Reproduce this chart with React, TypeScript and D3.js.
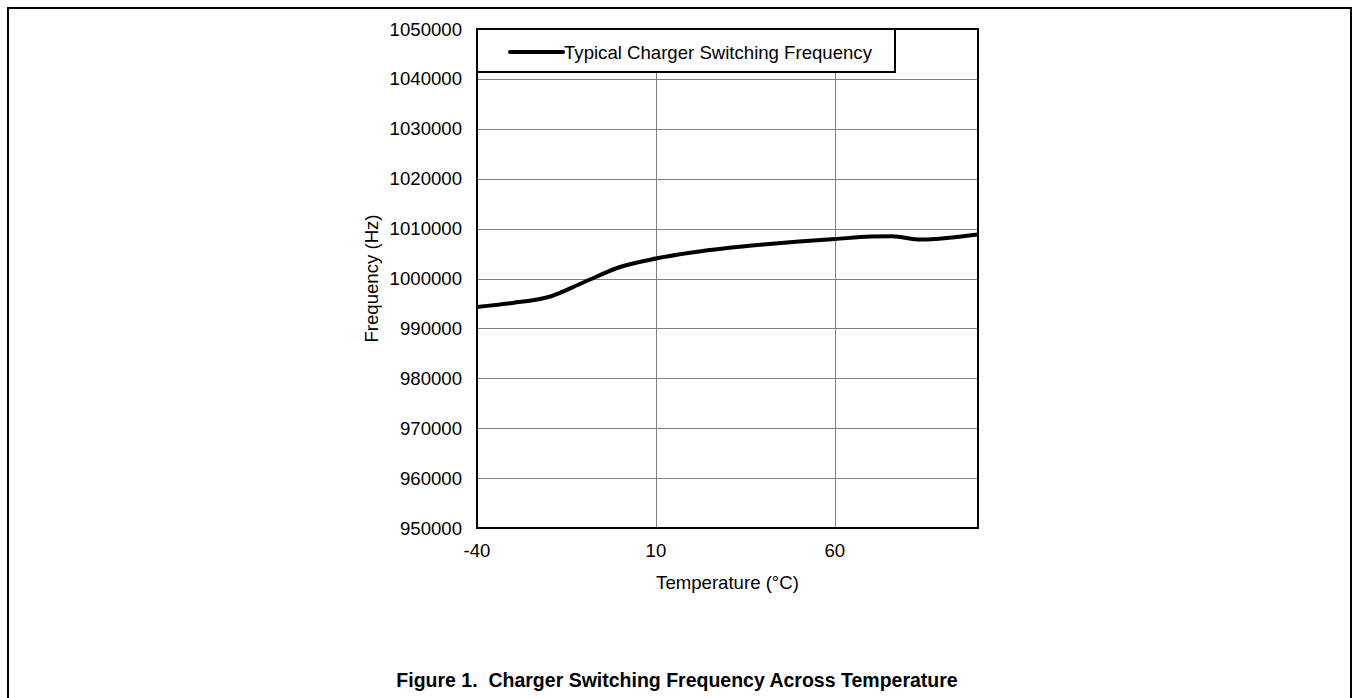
import { useEffect, useRef } from "react";
import * as d3 from "d3";

const temperatures = [-40, -30, -20, -10, 0, 10, 20, 30, 40, 50, 60, 70, 76, 84, 92, 100];
const frequencies = [
  994300, 995100, 996300, 999300, 1002300, 1004000, 1005200, 1006100, 1006800,
  1007400, 1007900, 1008400, 1008450, 1007800, 1008150, 1008800,
];
const xTicks = [-40, 10, 60];
const yTicks = [950000, 960000, 970000, 980000, 990000, 1000000, 1010000, 1020000, 1030000, 1040000, 1050000];
const seriesName = "Typical Charger Switching Frequency";
const caption = "Figure 1.  Charger Switching Frequency Across Temperature";

interface IPoint {
  t: number;
  f: number;
}

function App() {
  const ref = useRef<SVGSVGElement>(null);

  useEffect(() => {
    const data: IPoint[] = temperatures.map((t, i) => ({ t, f: frequencies[i] }));
    const font = "'Liberation Sans', Arial, sans-serif";

    const plot = { left: 477, top: 29, right: 978, bottom: 528 };

    const svg = d3.select(ref.current);
    svg.selectAll("*").remove();

    // outer figure frame (bottom edge falls off the page)
    svg
      .append("rect")
      .attr("x", 8)
      .attr("y", 8)
      .attr("width", 1343)
      .attr("height", 720)
      .attr("fill", "none")
      .attr("stroke", "#000")
      .attr("stroke-width", 2);

    const xScale = d3.scaleLinear().domain([-40, 100]).range([plot.left, plot.right]);
    const yScale = d3.scaleLinear().domain([950000, 1050000]).range([plot.bottom, plot.top]);

    // grid
    const grid = svg.append("g").attr("stroke", "#808080").attr("stroke-width", 1);
    grid
      .selectAll("line.h")
      .data(yTicks.slice(1, -1))
      .enter()
      .append("line")
      .attr("x1", plot.left)
      .attr("x2", plot.right)
      .attr("y1", (d) => Math.round(yScale(d)) + 0.5)
      .attr("y2", (d) => Math.round(yScale(d)) + 0.5);
    grid
      .selectAll("line.v")
      .data(xTicks.slice(1))
      .enter()
      .append("line")
      .attr("y1", plot.top)
      .attr("y2", plot.bottom)
      .attr("x1", (d) => Math.round(xScale(d)) + 0.5)
      .attr("x2", (d) => Math.round(xScale(d)) + 0.5);

    // y tick labels
    svg
      .append("g")
      .selectAll("text")
      .data(yTicks)
      .enter()
      .append("text")
      .attr("x", plot.left - 15)
      .attr("y", (d) => yScale(d))
      .attr("dy", "0.35em")
      .attr("text-anchor", "end")
      .attr("font-family", font)
      .attr("font-size", 18.6)
      .text((d) => d);

    // x tick labels
    svg
      .append("g")
      .selectAll("text")
      .data(xTicks)
      .enter()
      .append("text")
      .attr("x", (d) => xScale(d))
      .attr("y", plot.bottom + 29)
      .attr("text-anchor", "middle")
      .attr("font-family", font)
      .attr("font-size", 18.6)
      .text((d) => d);

    svg
      .append("text")
      .attr("x", (plot.left + plot.right) / 2)
      .attr("y", 589)
      .attr("text-anchor", "middle")
      .attr("font-family", font)
      .attr("font-size", 18.6)
      .text("Temperature (°C)");

    svg
      .append("text")
      .attr("transform", `translate(378, ${(plot.top + plot.bottom) / 2}) rotate(-90)`)
      .attr("text-anchor", "middle")
      .attr("font-family", font)
      .attr("font-size", 18.6)
      .text("Frequency (Hz)");

    // the curve
    const line = d3
      .line<IPoint>()
      .x((d) => xScale(d.t))
      .y((d) => yScale(d.f))
      .curve(d3.curveMonotoneX);
    svg
      .append("path")
      .datum(data)
      .attr("fill", "none")
      .attr("stroke", "#000")
      .attr("stroke-width", 4)
      .attr("d", line);

    // plot border
    svg
      .append("rect")
      .attr("x", plot.left)
      .attr("y", plot.top)
      .attr("width", plot.right - plot.left)
      .attr("height", plot.bottom - plot.top)
      .attr("fill", "none")
      .attr("stroke", "#000")
      .attr("stroke-width", 2);

    // legend
    const legend = svg.append("g");
    legend
      .append("rect")
      .attr("x", plot.left)
      .attr("y", plot.top)
      .attr("width", 418)
      .attr("height", 43)
      .attr("fill", "#fff")
      .attr("stroke", "#000")
      .attr("stroke-width", 2);
    legend
      .append("line")
      .attr("x1", 510)
      .attr("x2", 563)
      .attr("y1", 52)
      .attr("y2", 52)
      .attr("stroke", "#000")
      .attr("stroke-width", 4)
      .attr("stroke-linecap", "round");
    legend
      .append("text")
      .attr("x", 564)
      .attr("y", 52)
      .attr("dy", "0.35em")
      .attr("font-family", font)
      .attr("font-size", 18.6)
      .text(seriesName);

    svg
      .append("text")
      .attr("x", 677)
      .attr("y", 687)
      .attr("text-anchor", "middle")
      .attr("font-family", font)
      .attr("font-size", 19.5)
      .attr("font-weight", "bold")
      .attr("xml:space", "preserve")
      .style("white-space", "pre")
      .text(caption);
  }, []);

  return (
    <svg
      ref={ref}
      width={1353}
      height={698}
      style={{ position: "absolute", left: 0, top: 0, background: "#fff" }}
    />
  );
}

export default App;
